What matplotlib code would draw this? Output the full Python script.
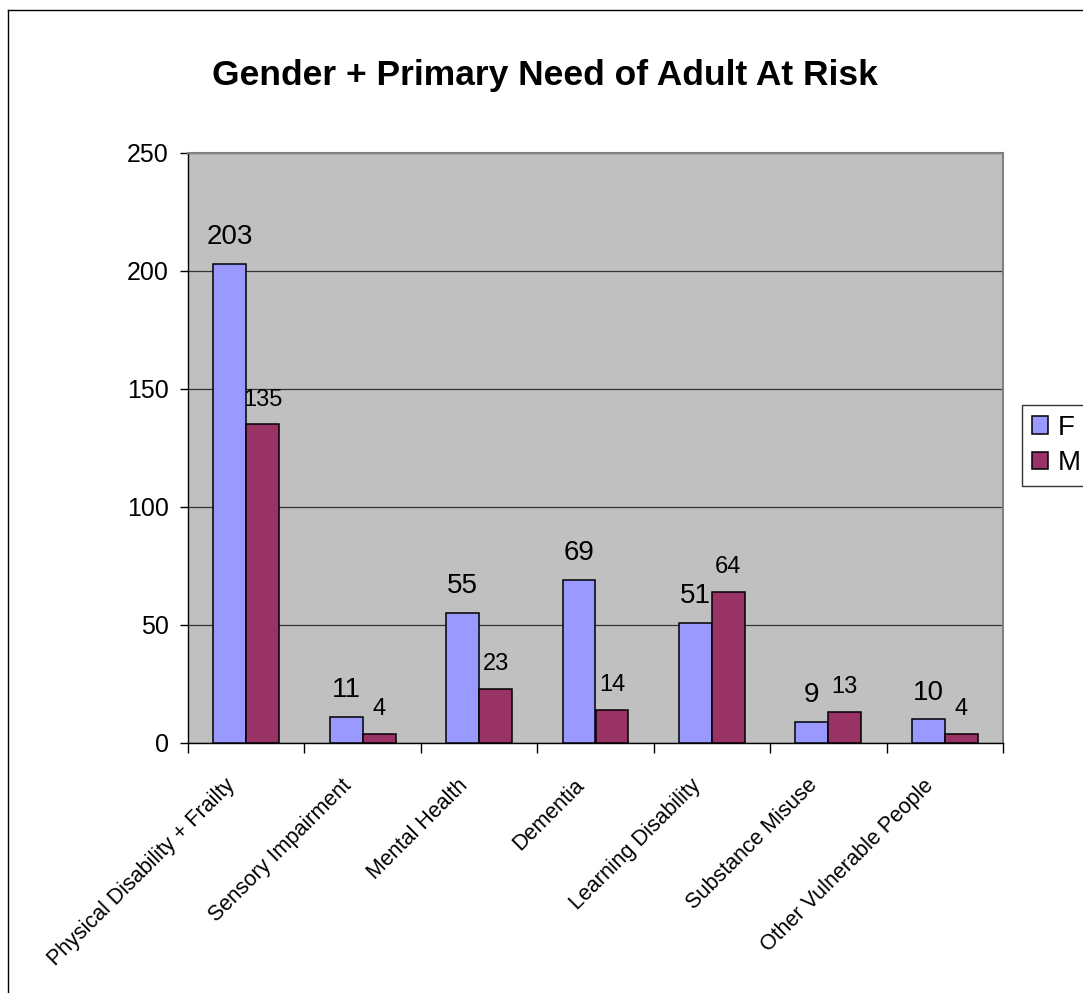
import matplotlib.pyplot as plt
import matplotlib.transforms as mtransforms
import numpy as np
from matplotlib.lines import Line2D

plt.rcParams['font.family'] = ['Liberation Sans', 'DejaVu Sans']

categories = ['Physical Disability + Frailty', 'Sensory Impairment', 'Mental Health',
              'Dementia', 'Learning Disability', 'Substance Misuse',
              'Other Vulnerable People']
female = [203, 11, 55, 69, 51, 9, 10]
male = [135, 4, 23, 14, 64, 13, 4]
y_ticks = [0, 50, 100, 150, 200, 250]

W, H = 1083, 993
fig = plt.figure(figsize=(W / 100, H / 100), dpi=100)
ax = fig.add_axes([188 / W, 1 - 743 / H, (1003 - 188) / W, (743 - 153) / H])
ax.set_facecolor('#C0C0C0')

x = np.arange(len(categories))
bw = 0.283
bars_f = ax.bar(x - bw / 2, female, bw, color='#9999FF', edgecolor='black',
                linewidth=1.1, label='F', zorder=3)
bars_m = ax.bar(x + bw / 2, male, bw, color='#993366', edgecolor='black',
                linewidth=1.1, label='M', zorder=3)

for bar, v in zip(bars_f, female):
    ax.annotate(str(v), (bar.get_x() + bar.get_width() / 2, v), xytext=(0, 10),
                textcoords='offset points', ha='center', va='bottom', fontsize=20)
for bar, v in zip(bars_m, male):
    ax.annotate(str(v), (bar.get_x() + bar.get_width() / 2, v), xytext=(0, 10),
                textcoords='offset points', ha='center', va='bottom', fontsize=17)

ax.set_xlim(-0.5, len(categories) - 0.5)
ax.set_ylim(0, 250)
ax.set_yticks(y_ticks)
ax.tick_params(axis='y', labelsize=18, length=6, width=1, direction='out', pad=8)
ax.yaxis.grid(True, color='#333333', linewidth=0.9, zorder=1)

ax.set_xticks(x)
ax.set_xticklabels(categories, rotation=45, ha='right', rotation_mode='anchor',
                   fontsize=15.5)
ax.tick_params(axis='x', which='major', length=0, pad=23)
ax.set_xticks(np.arange(-0.5, len(categories)), minor=True)
ax.tick_params(axis='x', which='minor', length=7, width=1, direction='out')
shift = mtransforms.ScaledTranslation(-0.22, 0, fig.dpi_scale_trans)
for lbl in ax.get_xticklabels():
    lbl.set_transform(lbl.get_transform() + shift)

for side in ('left', 'bottom'):
    ax.spines[side].set_color('black')
    ax.spines[side].set_linewidth(1)
for side in ('top', 'right'):
    ax.spines[side].set_color('#808080')
    ax.spines[side].set_linewidth(1.5)

fig.text(545 / W, 1 - 75 / H, 'Gender + Primary Need of Adult At Risk',
         ha='center', va='center', fontsize=25.5, fontweight='bold')

leg = fig.legend(handles=[bars_f, bars_m], labels=['F', 'M'],
                 loc='upper left', bbox_to_anchor=(1022 / W, 1 - 405 / H),
                 fontsize=20, frameon=True, fancybox=False, edgecolor='black',
                 handlelength=0.6, handleheight=0.6, handletextpad=0.35,
                 borderpad=0.35, labelspacing=0.35, borderaxespad=0)
leg.get_frame().set_linewidth(1)

# outer chart border
fig.add_artist(Line2D([8 / W, 8 / W], [0, 1 - 10 / H], color='black', lw=1,
                      transform=fig.transFigure))
fig.add_artist(Line2D([8 / W, 1], [1 - 10 / H, 1 - 10 / H], color='black', lw=1,
                      transform=fig.transFigure))

fig.savefig('out.png', dpi=100, facecolor='white')
